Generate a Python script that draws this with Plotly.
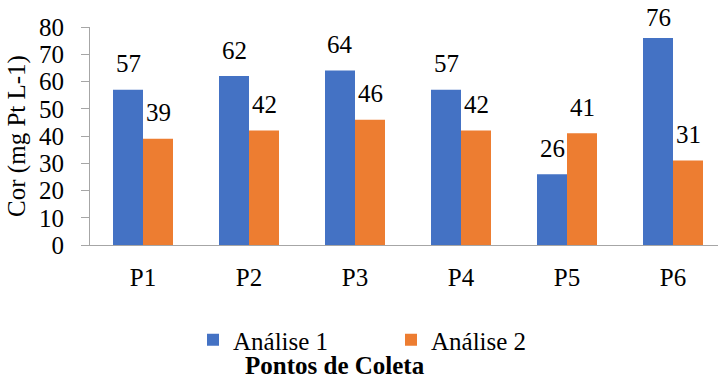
import plotly.graph_objects as go

# Sampling points and colour readings (mg Pt L-1)
pontos = ["P1", "P2", "P3", "P4", "P5", "P6"]
analise_1 = [57, 62, 64, 57, 26, 76]
analise_2 = [39, 42, 46, 42, 41, 31]
series_names = ["Análise 1", "Análise 2"]
y_ticks = [0, 10, 20, 30, 40, 50, 60, 70, 80]

BLUE = "#4472C4"
ORANGE = "#ED7D31"
FONT = "Liberation Serif"
FS = 25
AXIS_GRAY = "#A6A6A6"
Y_MAX = 80

W, H = 718, 378
L, R, T, B = 90, 0, 27, 133
pw, ph = W - L - R, H - T - B


def px_to_paper(xp, yp):
    return (xp - L) / pw, (H - B - yp) / ph


fig = go.Figure()
fig.add_trace(go.Bar(x=pontos, y=analise_1, name=series_names[0],
                     marker=dict(color=BLUE, line=dict(width=0))))
fig.add_trace(go.Bar(x=pontos, y=analise_2, name=series_names[1],
                     marker=dict(color=ORANGE, line=dict(width=0))))

# value labels floating above each bar; pulled closer to the bar when it
# would otherwise run off the top of the figure
annotations = []
for vals, shift in ((analise_1, -15), (analise_2, 15)):
    for p, v in zip(pontos, vals):
        bar_top_px = T + ph * (1 - v / Y_MAX)
        lift = min(26, bar_top_px - 17.5)
        annotations.append(dict(x=p, y=v, xref="x", yref="y", text=str(v),
                                showarrow=False, xshift=shift, yshift=lift,
                                font=dict(family=FONT, size=FS, color="#000000")))

# category axis title, set below the legend
tx, ty = px_to_paper(335, 365)
annotations.append(dict(x=tx, y=ty, xref="paper", yref="paper", text="<b>Pontos de Coleta</b>",
                        showarrow=False, xanchor="center", yanchor="middle",
                        font=dict(family=FONT, size=FS, color="#000000")))

lx, ly = px_to_paper(193, 340)
fig.update_layout(
    width=W, height=H,
    margin=dict(l=L, r=R, t=T, b=B, pad=0),
    paper_bgcolor="white", plot_bgcolor="white",
    barmode="group", bargap=0.434, bargroupgap=0,
    font=dict(family=FONT, size=FS, color="#000000"),
    showlegend=True,
    legend=dict(orientation="h", x=lx, xanchor="left",
                y=ly, yanchor="middle",
                font=dict(family=FONT, size=FS, color="#000000"),
                itemsizing="constant", bgcolor="rgba(0,0,0,0)",
                entrywidth=153, entrywidthmode="pixels",
                tracegroupgap=0, itemwidth=30),
    annotations=annotations,
)

fig.update_xaxes(
    range=[-0.5, 5.5 - 8 / 106],
    showline=True, linecolor=AXIS_GRAY, linewidth=1,
    ticks="", showgrid=False, zeroline=False,
    ticklabelstandoff=10,
    tickfont=dict(family=FONT, size=FS, color="#000000"),
)
fig.update_yaxes(
    range=[0, Y_MAX], tickvals=y_ticks,
    showline=True, linecolor=AXIS_GRAY, linewidth=1,
    ticks="outside", ticklen=8, tickcolor=AXIS_GRAY, tickwidth=1,
    ticklabelstandoff=12,
    showgrid=False, zeroline=False,
    tickfont=dict(family=FONT, size=FS, color="#000000"),
    title=dict(text="Cor (mg Pt L-1)", standoff=6,
               font=dict(family=FONT, size=FS, color="#000000")),
)

fig.write_html("out.html")
